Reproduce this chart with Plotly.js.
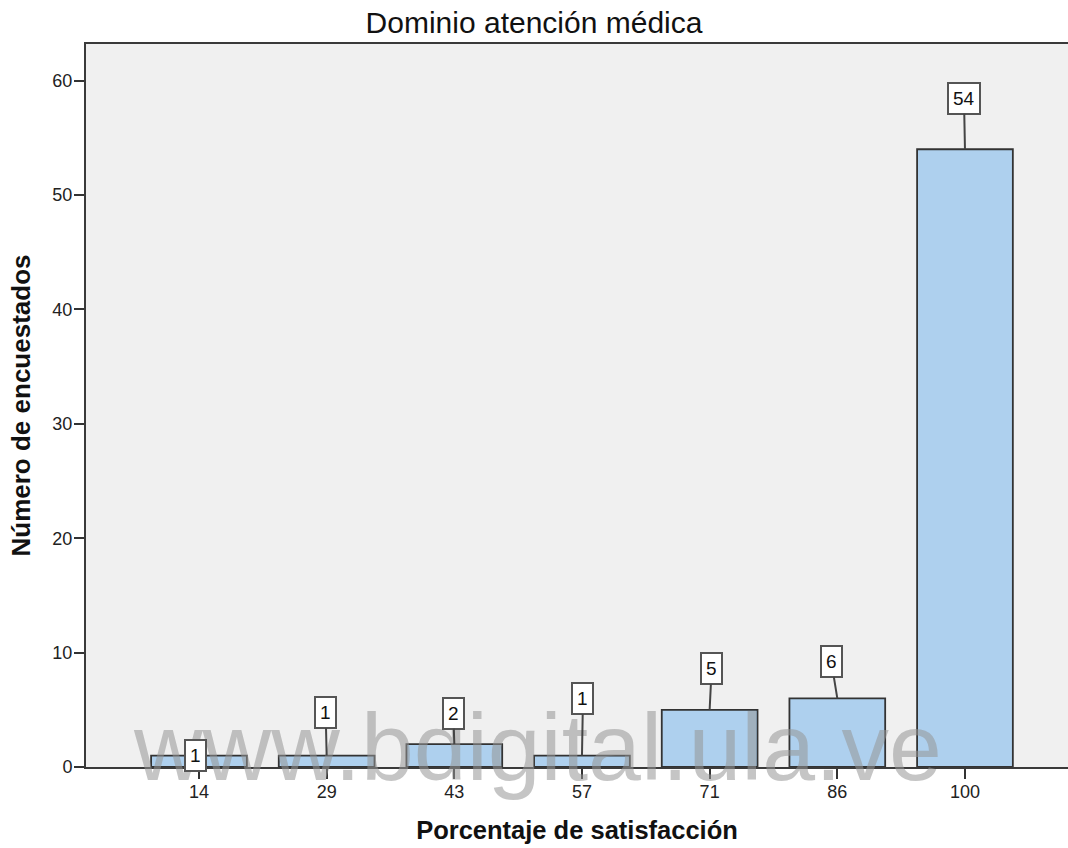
<!DOCTYPE html>
<html>
<head>
<meta charset="utf-8">
<script src="https://cdn.plot.ly/plotly-3.0.1.min.js"></script>
<style>
  html, body { margin: 0; padding: 0; background: #ffffff; }
  #chart { width: 1068px; height: 848px; }
</style>
</head>
<body>
<div id="chart"></div>
<script>
// Satisfaction score categories and number of respondents in each
const categories = ['14', '29', '43', '57', '71', '86', '100'];
const respondents = [1, 1, 2, 1, 5, 6, 54];

// Pixel offsets of each count label box from the top of its bar
const labelOffsetX = [-3, -1, -1, 1, 2, -6, -1];
const labelOffsetY = [0, -43, -31, -57, -41, -37, -51];

const yTicks = [0, 10, 20, 30, 40, 50, 60];

const FONT = '"Liberation Sans", Arial, sans-serif';

const trace = {
  type: 'bar',
  x: categories,
  y: respondents,
  marker: {
    color: '#AED0EE',
    line: { color: '#333333', width: 1.8 }
  },
  hoverinfo: 'x+y'
};

// Count labels: positioned by category index on the category axis
const valueLabels = categories.map((c, i) => ({
  x: i,
  y: respondents[i],
  xref: 'x',
  yref: 'y',
  text: String(respondents[i]),
  showarrow: true,
  arrowhead: 0,
  arrowwidth: 2,
  arrowcolor: '#444444',
  ax: labelOffsetX[i],
  ay: labelOffsetY[i],
  height: 21,
  font: { family: FONT, size: 19, color: '#111111' },
  bgcolor: '#ffffff',
  bordercolor: '#555555',
  borderwidth: 2,
  borderpad: 4
}));

const watermark = {
  xref: 'paper',
  yref: 'paper',
  x: 0.46,
  y: 0.027,
  xanchor: 'center',
  yanchor: 'middle',
  text: 'www.bdigital.ula.ve',
  showarrow: false,
  font: { family: FONT, size: 95, color: 'rgba(150,150,150,0.55)' }
};

const layout = {
  width: 1068,
  height: 848,
  margin: { l: 86, r: 0, t: 44, b: 81, pad: 0 },
  paper_bgcolor: '#ffffff',
  plot_bgcolor: '#F0F0F0',
  showlegend: false,
  bargap: 0.25,
  title: {
    text: 'Dominio atención médica',
    font: { family: FONT, size: 30, color: '#111111' },
    x: 0.5,
    xref: 'container',
    y: 1 - 22 / 848,
    yref: 'container',
    yanchor: 'middle'
  },
  xaxis: {
    type: 'category',
    range: [-0.885, 6.807],
    showline: true,
    mirror: true,
    linecolor: '#3a3a3a',
    linewidth: 2,
    ticks: 'outside',
    ticklen: 10,
    tickwidth: 2,
    tickcolor: '#333333',
    ticklabelstandoff: -3,
    showgrid: false,
    tickfont: { family: FONT, size: 18, color: '#222222' },
    title: {
      text: 'Porcentaje de satisfacción',
      font: { family: FONT, size: 25.5, color: '#111111', weight: 'bold' },
      standoff: 21
    },
    automargin: false
  },
  yaxis: {
    range: [0, 63.2],
    tickvals: yTicks,
    ticktext: yTicks.map(String),
    showline: true,
    linecolor: '#3a3a3a',
    linewidth: 2,
    ticks: 'outside',
    ticklen: 10,
    tickwidth: 2,
    tickcolor: '#333333',
    ticklabelstandoff: -2,
    showgrid: false,
    zeroline: false,
    tickfont: { family: FONT, size: 18, color: '#222222' },
    title: {
      text: 'Número de encuestados',
      font: { family: FONT, size: 26, color: '#111111', weight: 'bold' },
      standoff: 14
    },
    automargin: false
  },
  annotations: [watermark].concat(valueLabels)
};

Plotly.newPlot('chart', [trace], layout, { displayModeBar: false, staticPlot: true });
</script>
</body>
</html>
